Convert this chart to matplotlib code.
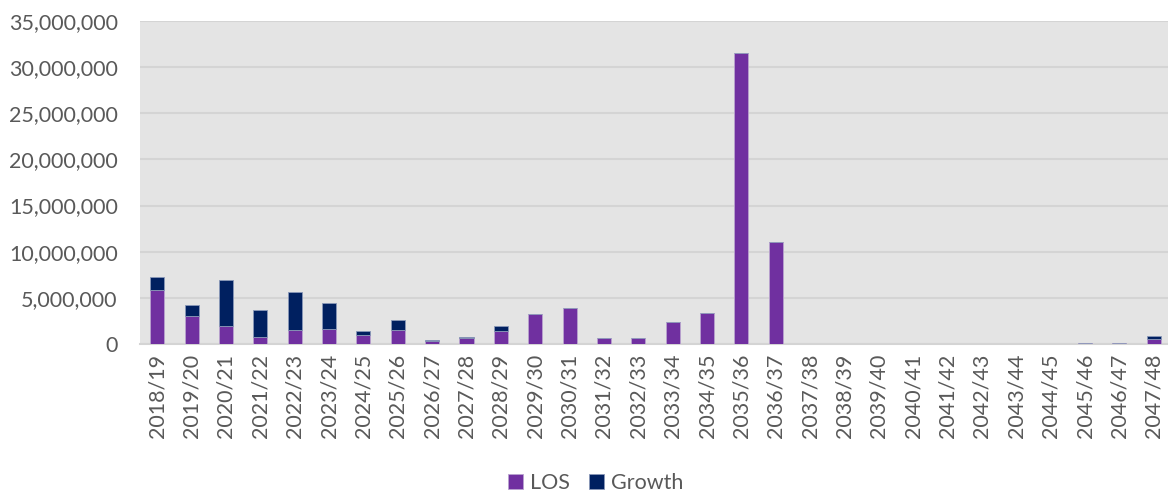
import matplotlib.pyplot as plt
from matplotlib.ticker import FuncFormatter, MultipleLocator
import numpy as np

# financial years
years = ["2018/19", "2019/20", "2020/21", "2021/22", "2022/23", "2023/24",
         "2024/25", "2025/26", "2026/27", "2027/28", "2028/29", "2029/30",
         "2030/31", "2031/32", "2032/33", "2033/34", "2034/35", "2035/36",
         "2036/37", "2037/38", "2038/39", "2039/40", "2040/41", "2041/42",
         "2042/43", "2043/44", "2044/45", "2045/46", "2046/47", "2047/48"]

# LOS and Growth components (stacked)
los = [5800000, 3030000, 1950000, 790000, 1520000, 1630000,
       980000, 1520000, 330000, 610000, 1440000, 3280000,
       3930000, 680000, 680000, 2380000, 3390000, 31560000,
       11080000, 20000, 20000, 20000, 20000, 20000,
       20000, 20000, 20000, 140000, 140000, 570000]
growth = [1430000, 1150000, 4950000, 2930000, 4110000, 2810000,
          430000, 1080000, 100000, 180000, 510000, 0,
          0, 0, 0, 0, 0, 0,
          0, 0, 0, 0, 0, 0,
          0, 0, 0, 0, 0, 300000]

plt.rcParams['font.family'] = ['Lato', 'DejaVu Sans']

fig = plt.figure(figsize=(11.68, 4.93), dpi=100)
ax = fig.add_axes([140 / 1168, 1 - 344 / 493, 1031 / 1168, (344 - 21) / 493])
ax.set_facecolor("#E4E4E4")

x = np.arange(len(years))
ax.bar(x, los, width=0.41, color="#7030A0", edgecolor="#B9A3CF", linewidth=0.6,
       label="LOS", zorder=3)
ax.bar(x, growth, width=0.41, bottom=los, color="#002060", edgecolor="#8A98B8",
       linewidth=0.6, label="Growth", zorder=3)

ax.set_xlim(-0.5, len(years) - 0.5)
ax.set_ylim(0, 35000000)
ax.yaxis.set_major_locator(MultipleLocator(5000000))
ax.yaxis.set_major_formatter(FuncFormatter(lambda v, p: f"{int(v):,}"))
ax.grid(axis="y", color="#D4D4D4", linewidth=1.5, zorder=0)
ax.set_xticks(x)
ax.set_xticklabels(years, rotation=90)

for s in ["top", "right", "left"]:
    ax.spines[s].set_visible(False)
ax.spines["bottom"].set_color("#D4D4D4")
ax.spines["bottom"].set_linewidth(1.5)
ax.tick_params(axis="both", length=0, colors="#595959", labelsize=15.5)
ax.tick_params(axis="y", pad=16)
ax.tick_params(axis="x", pad=7)

fig.legend(loc="lower center", bbox_to_anchor=(0.51, -0.04), ncol=2, frameon=False,
           fontsize=15.5, labelcolor="#595959", handlelength=0.7, handleheight=0.7,
           handletextpad=0.3, columnspacing=0.9)

fig.savefig("out.png", dpi=100)
